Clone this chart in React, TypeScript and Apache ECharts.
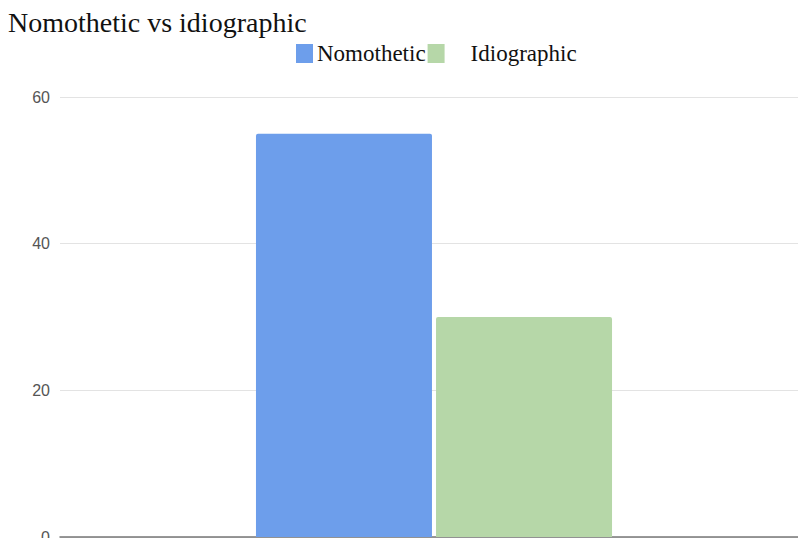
import React, { useEffect, useRef } from "react";
import * as echarts from "echarts";

const categories = [""];
const seriesNames = ["Nomothetic", "Idiographic"];
const nomotheticValues = [55];
const idiographicValues = [30];
const yTicks = [0, 20, 40, 60];
const colors = ["#6d9eeb", "#b6d7a8"];

export default function App() {
  const ref = useRef<HTMLDivElement>(null);
  useEffect(() => {
    if (!ref.current) return;
    const chart = echarts.init(ref.current, null, { renderer: "svg" });
    const serif = "'Liberation Serif', 'Times New Roman', serif";
    chart.setOption({
      animation: false,
      title: {
        text: "Nomothetic vs idiographic",
        left: 8,
        top: 8,
        padding: 0,
        textStyle: { fontFamily: serif, fontSize: 28, fontWeight: "normal", color: "#111" },
      },
      legend: {
        left: 296,
        top: 42,
        padding: 0,
        itemGap: 2,
        itemWidth: 17,
        itemHeight: 19,
        icon: "rect",
        data: seriesNames,
        formatter: (name: string) => (name === "Idiographic" ? "{p|" + name + "}" : "{n|" + name + "}"),
        textStyle: {
          fontFamily: serif,
          fontSize: 23,
          color: "#111",
          rich: {
            n: { fontFamily: serif, fontSize: 23, color: "#111", padding: [0, 0, 0, -1] },
            p: { fontFamily: serif, fontSize: 23, color: "#111", padding: [0, 0, 0, 21] },
          },
        },
      },
      grid: {
        left: 60,
        right: -10,
        top: 97,
        bottom: 1,
        containLabel: false,
        outerBoundsMode: "none",
      },
      xAxis: {
        type: "category",
        data: categories,
        axisTick: { show: false },
        axisLabel: { show: false },
        axisLine: { show: true, lineStyle: { color: "#777", width: 1.5 } },
      },
      yAxis: {
        type: "value",
        min: yTicks[0],
        max: yTicks[yTicks.length - 1],
        interval: 20,
        axisLine: { show: false },
        axisTick: { show: false },
        axisLabel: {
          margin: 10,
          fontFamily: "'Liberation Sans', Arial, sans-serif",
          fontSize: 16,
          color: "#555",
        },
        splitLine: { lineStyle: { color: "#e3e3e3", width: 1 } },
      },
      series: [
        {
          name: seriesNames[0],
          type: "bar",
          data: nomotheticValues,
          barWidth: 176,
          barGap: "2.3%",
          itemStyle: { color: colors[0], borderRadius: [2, 2, 0, 0] },
        },
        {
          name: seriesNames[1],
          type: "bar",
          data: idiographicValues,
          barWidth: 176,
          barGap: "2.3%",
          itemStyle: { color: colors[1], borderRadius: [2, 2, 0, 0] },
        },
      ],
    });
    return () => chart.dispose();
  }, []);
  return (
    <div
      ref={ref}
      style={{ position: "fixed", left: 0, top: 0, width: 798, height: 538, background: "#fff" }}
    />
  );
}
